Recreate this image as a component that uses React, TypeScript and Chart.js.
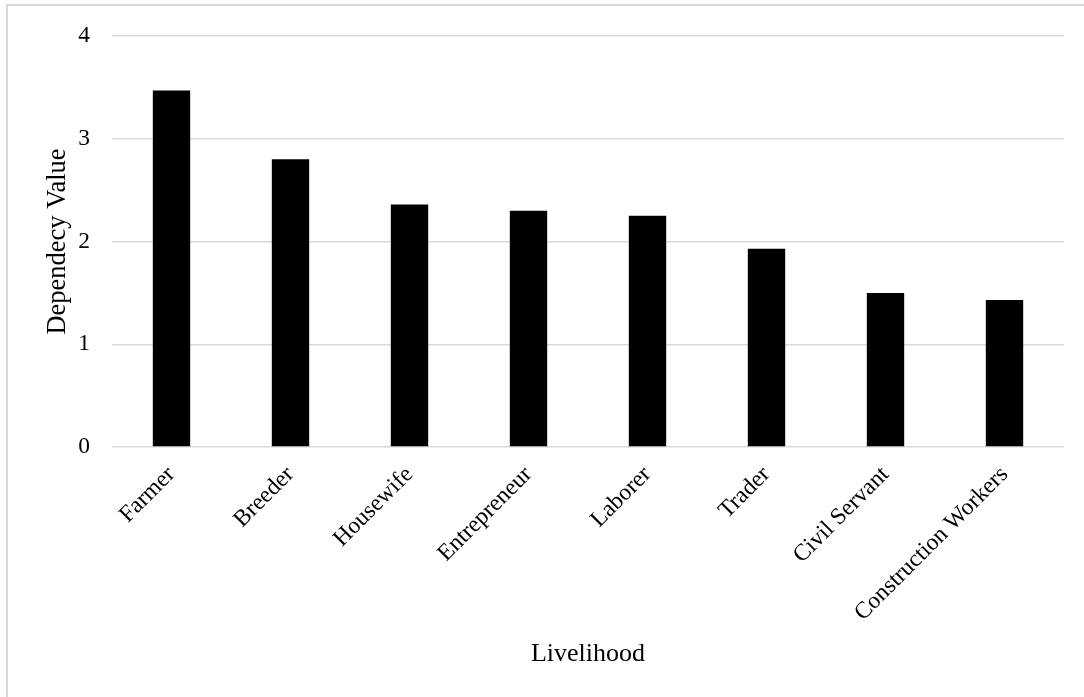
import React, { useEffect, useRef } from "react";
import { Chart, registerables } from "chart.js";

Chart.register(...registerables);

const categories = [
  "Farmer",
  "Breeder",
  "Housewife",
  "Entrepreneur",
  "Laborer",
  "Trader",
  "Civil Servant",
  "Construction Workers",
];
const dependencyValues = [3.47, 2.8, 2.36, 2.3, 2.25, 1.93, 1.5, 1.43];
const yTicks = [0, 1, 2, 3, 4];

const FONT = "'Liberation Serif', 'Times New Roman', serif";

export default function App() {
  const canvasRef = useRef<HTMLCanvasElement | null>(null);

  useEffect(() => {
    const canvas = canvasRef.current;
    if (!canvas) return;
    const chart = new Chart(canvas, {
      type: "bar",
      data: {
        labels: categories,
        datasets: [
          {
            label: "Dependecy Value",
            data: dependencyValues,
            backgroundColor: "#000000",
            borderColor: "#000000",
            borderWidth: 0,
            barPercentage: 0.314,
            categoryPercentage: 1,
          },
        ],
      },
      options: {
        responsive: false,
        animation: false,
        layout: { padding: { top: 34, right: 20, left: 0, bottom: 0 } },
        plugins: {
          legend: { display: false },
          tooltip: { enabled: false },
        },
        scales: {
          x: {
            grid: { display: false, drawTicks: false },
            border: { display: false },
            ticks: {
              color: "#000000",
              font: { family: FONT, size: 23.5 },
              maxRotation: 45,
              minRotation: 45,
              padding: 14,
            },
            title: {
              display: true,
              text: "Livelihood",
              color: "#000000",
              font: { family: FONT, size: 26 },
              padding: { top: 0, bottom: 27 },
            },
            afterFit: (scale: any) => {
              scale.height = 250;
            },
          },
          y: {
            min: 0,
            max: 4,
            afterBuildTicks: (scale: any) => {
              scale.ticks = yTicks.map((v) => ({ value: v }));
            },
            grid: { color: "#d9d9d9", lineWidth: 1.5, drawTicks: false },
            border: { display: false },
            ticks: {
              color: "#000000",
              font: { family: FONT, size: 23.5 },
              padding: 22,
            },
            title: {
              display: true,
              text: "Dependecy Value",
              color: "#000000",
              font: { family: FONT, size: 26.5 },
              padding: { top: 42, bottom: 0 },
            },
            afterFit: (scale: any) => {
              scale.width = 112;
            },
          },
        },
      },
    });
    return () => chart.destroy();
  }, []);

  return (
    <div
      style={{
        position: "fixed",
        left: 0,
        top: 0,
        width: 1084,
        height: 697,
        overflow: "hidden",
        background: "#ffffff",
      }}
    >
      <div
        style={{
          position: "absolute",
          left: 6,
          top: 4,
          width: 1200,
          height: 800,
          border: "2px solid #d9d9d9",
          boxSizing: "border-box",
        }}
      />
      <canvas
        ref={canvasRef}
        width={1084}
        height={697}
        style={{ position: "absolute", left: 0, top: 0, width: 1084, height: 697 }}
      />
    </div>
  );
}
